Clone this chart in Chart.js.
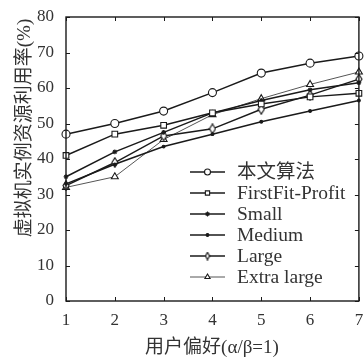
<!DOCTYPE html>
<html>
<head>
<meta charset="utf-8">
<script src="https://cdn.jsdelivr.net/npm/chart.js@4/dist/chart.umd.min.js"></script>
<style>
  html, body { margin: 0; padding: 0; background: #fff; }
  #wrap { width: 364px; height: 359px; position: relative; }
</style>
</head>
<body>
<div id="wrap"><canvas id="c"></canvas></div>
<script>
'use strict';

// ── data ─────────────────────────────────────────────────────────────
const xLabels = ['1', '2', '3', '4', '5', '6', '7'];
const ours = [47, 50, 53.5, 58.7, 64.2, 67, 69];
const firstFit = [41, 47, 49.5, 53, 55.5, 57.5, 58.5];
const small = [35, 42, 47.5, 53, 56.5, 59.5, 61.5];
const medium = [33, 38.5, 43.5, 47, 50.5, 53.5, 56.5];
const large = [32.5, 39, 46.5, 48.5, 54, 58, 62.5];
const extraLarge = [32, 35, 45.5, 52.5, 57, 61, 64.5];
const yTicks = [0, 10, 20, 30, 40, 50, 60, 70, 80];

const seriesNames = ['本文算法', 'FirstFit-Profit', 'Small', 'Medium', 'Large', 'Extra large'];
const xTitle = '用户偏好(α/β=1)';
const yTitle = '虚拟机实例资源利用率(%)';

const SERIF = '"Liberation Serif", "Noto Sans CJK SC", serif';
const INK = '#1a1a1a';

// thin vertical diamond used for "Large"
function diamondMarker(w, h) {
  const cv = document.createElement('canvas');
  cv.width = w; cv.height = h;
  const g = cv.getContext('2d');
  g.strokeStyle = INK; g.lineWidth = 1.2;
  g.fillStyle = '#fff';
  g.beginPath();
  g.moveTo(w / 2, 0.8); g.lineTo(w - 1, h / 2); g.lineTo(w / 2, h - 0.8); g.lineTo(1, h / 2); g.closePath();
  g.fill(); g.stroke();
  return cv;
}
const diamond = diamondMarker(8, 11);
const diamondSmall = diamondMarker(6, 9);

const mk = (label, data, style, radius, extra) => Object.assign({
  label, data,
  borderColor: INK,
  borderWidth: 1.5,
  pointStyle: style,
  pointRadius: radius,
  pointBorderColor: INK,
  pointBackgroundColor: '#fff',
  pointBorderWidth: 1.1,
  tension: 0,
  clip: false,
}, extra || {});

const datasets = [
  mk(seriesNames[0], ours, 'circle', 4),
  mk(seriesNames[1], firstFit, 'rect', 4),
  mk(seriesNames[2], small, 'star', 2.4),
  mk(seriesNames[3], medium, 'circle', 1.4, { pointBackgroundColor: INK }),
  mk(seriesNames[4], large, diamond, 4),
  mk(seriesNames[5], extraLarge, 'triangle', 4, { borderColor: '#555', borderWidth: 1 }),
];

// drawPoint needs stroke/fill colours set on ctx
function legendPoint(ctx, ds, px, py) {
  ctx.save();
  ctx.strokeStyle = INK;
  ctx.fillStyle = ds.pointRadius < 2 ? INK : '#fff';
  ctx.lineWidth = ds.pointBorderWidth;
  const style = ds.pointStyle === diamond ? diamondSmall : ds.pointStyle;
  Chart.helpers.drawPoint(ctx, {
    pointStyle: style,
    radius: ds.pointRadius < 3 ? ds.pointRadius : 3,
    borderWidth: ds.pointBorderWidth, rotation: 0
  }, px, py);
  ctx.restore();
}

// ── frame, inward ticks, titles, legend ─────────────────────────────
const decor = {
  id: 'decor',
  afterDraw(chart) {
    const { ctx, chartArea: a, scales: { x, y } } = chart;
    ctx.save();
    ctx.strokeStyle = INK;
    ctx.lineWidth = 1.4;
    ctx.strokeRect(a.left, a.top, a.right - a.left, a.bottom - a.top);

    ctx.lineWidth = 1;
    ctx.beginPath();
    xLabels.forEach((_, i) => {
      const px = Math.round(x.getPixelForValue(i)) + 0.5;
      ctx.moveTo(px, a.bottom); ctx.lineTo(px, a.bottom - 4);
      ctx.moveTo(px, a.top); ctx.lineTo(px, a.top + 4);
    });
    yTicks.forEach(v => {
      const py = Math.round(y.getPixelForValue(v)) + 0.5;
      ctx.moveTo(a.left, py); ctx.lineTo(a.left + 4, py);
      ctx.moveTo(a.right, py); ctx.lineTo(a.right - 4, py);
    });
    ctx.stroke();

    // axis titles
    ctx.fillStyle = '#333';
    ctx.font = '19px ' + SERIF;
    ctx.textAlign = 'center';
    ctx.textBaseline = 'middle';
    ctx.fillText(xTitle, 212, 348);
    ctx.save();
    ctx.translate(25, 128);
    ctx.rotate(-Math.PI / 2);
    ctx.fillText(yTitle, 0, 0);
    ctx.restore();

    // legend inside the plot
    const lx0 = 190, lx1 = 225, tx = 237, ly0 = 172, dy = 21;
    ctx.font = '19.5px ' + SERIF;
    ctx.textAlign = 'left';
    chart.data.datasets.forEach((ds, i) => {
      const ly = ly0 + i * dy;
      ctx.strokeStyle = ds.borderColor;
      ctx.lineWidth = ds.borderWidth;
      ctx.beginPath(); ctx.moveTo(lx0, ly); ctx.lineTo(lx1, ly); ctx.stroke();
      legendPoint(ctx, ds, (lx0 + lx1) / 2, ly);
      ctx.fillStyle = '#333';
      ctx.fillText(ds.label, tx, ly + 1);
    });
    ctx.restore();
  }
};

new Chart(document.getElementById('c'), {
  type: 'line',
  data: { labels: xLabels, datasets },
  options: {
    responsive: true,
    maintainAspectRatio: false,
    animation: false,
    devicePixelRatio: 1,
    layout: { padding: { top: 17, right: 1.5, left: 0, bottom: 0 } },
    plugins: { legend: { display: false }, tooltip: { enabled: false } },
    scales: {
      x: {
        offset: false,
        grid: { display: false, drawTicks: false },
        border: { display: false },
        ticks: { color: '#333', padding: 9, font: { family: SERIF, size: 17 }, maxRotation: 0 },
        afterFit(s) { s.height = 58; s.paddingLeft = 0; s.paddingRight = 0; },
      },
      y: {
        min: 0, max: 80,
        grid: { display: false, drawTicks: false },
        border: { display: false },
        ticks: { stepSize: 10, color: '#333', padding: 12, font: { family: SERIF, size: 17 } },
        afterFit(s) { s.width = 66; s.paddingTop = 0; s.paddingBottom = 0; },
      },
    },
  },
  plugins: [decor],
});
</script>
</body>
</html>
